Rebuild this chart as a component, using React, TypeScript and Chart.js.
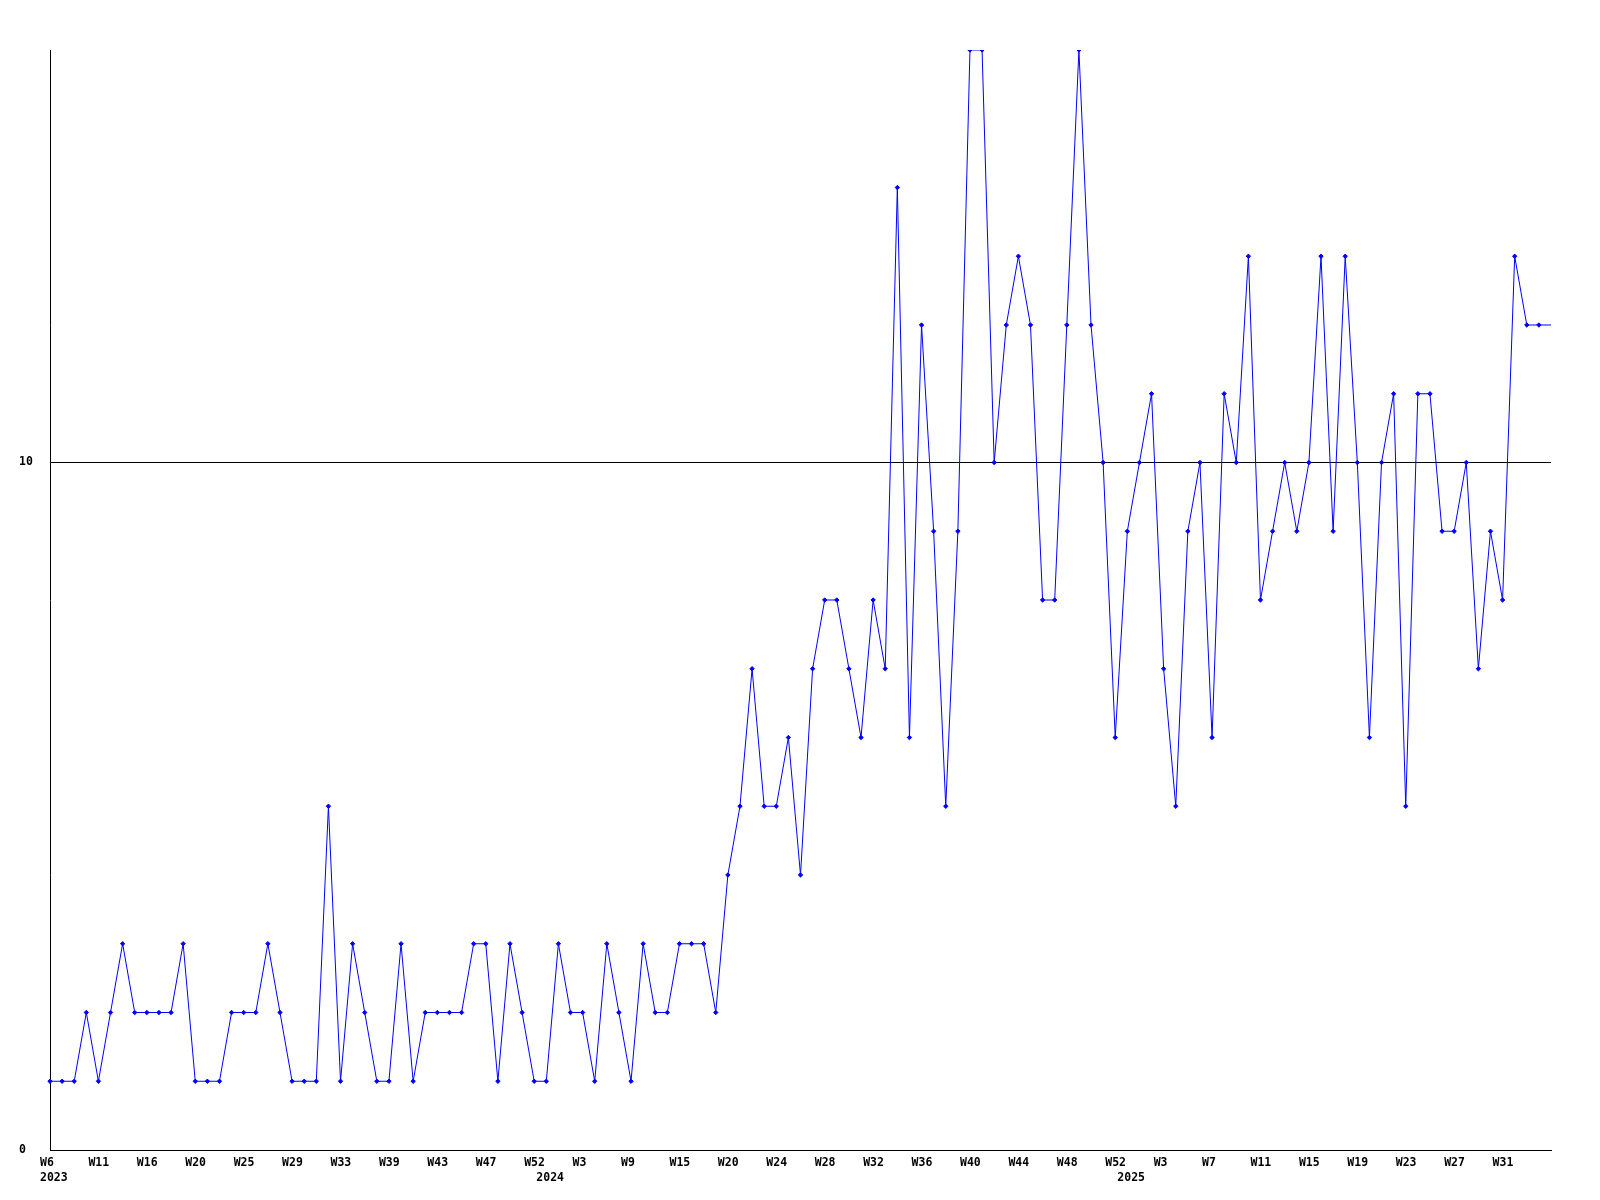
import React, { useEffect, useRef } from 'react';
import { Chart, registerables } from 'chart.js';

Chart.register(...registerables);

// One value per plotted point (weekly counts), left to right.
const values: number[] = [
  1, 1, 1, 2, 1, 2, 3, 2, 2, 2,
  2, 3, 1, 1, 1, 2, 2, 2, 3, 2,
  1, 1, 1, 5, 1, 3, 2, 1, 1, 3,
  1, 2, 2, 2, 2, 3, 3, 1, 3, 2,
  1, 1, 3, 2, 2, 1, 3, 2, 1, 3,
  2, 2, 3, 3, 3, 2, 4, 5, 7, 5,
  5, 6, 4, 7, 8, 8, 7, 6, 8, 7,
  14, 6, 12, 9, 5, 9, 16, 16, 10, 12,
  13, 12, 8, 8, 12, 16, 12, 10, 6, 9,
  10, 11, 7, 5, 9, 10, 6, 11, 10, 13,
  8, 9, 10, 9, 10, 13, 9, 13, 10, 6,
  10, 11, 5, 11, 11, 9, 9, 10, 7, 9,
  8, 13, 12, 12, 12,
];

// Week labels shown on every 4th point.
const weekLabels: string[] = [
  'W6', 'W11', 'W16', 'W20', 'W25', 'W29', 'W33', 'W39', 'W43', 'W47', 'W52',
  'W3', 'W9', 'W15', 'W20', 'W24', 'W28', 'W32', 'W36', 'W40', 'W44', 'W48', 'W52',
  'W3', 'W7', 'W11', 'W15', 'W19', 'W23', 'W27', 'W31',
];
const weekLabelEvery = 4;

// Year labels, on the first point of each year.
const yearLabels: string[] = ['2023', '2024', '2025'];
const yearStartIndex: number[] = [0, 41, 89];

// Y-axis tick values.
const yTicks: number[] = [0, 10];
const yMax = 16;

// Last point is the running (incomplete) week: line only, no marker.
const categories: string[] = values.map((_, i) => String(i));

const FONT = "'DejaVu Sans Mono', 'Liberation Mono', monospace";

export default function App() {
  const ref = useRef<HTMLCanvasElement | null>(null);

  useEffect(() => {
    const canvas = ref.current;
    if (!canvas) return;
    const chart = new Chart(canvas, {
      type: 'line',
      data: {
        labels: categories,
        datasets: [
          {
            data: values,
            borderColor: '#0000ff',
            backgroundColor: '#0000ff',
            borderWidth: 1,
            tension: 0,
            fill: false,
            pointStyle: 'rectRot',
            pointRadius: values.map((_, i) => (i === values.length - 1 ? 0 : 2.2)),
            pointBorderWidth: 1,
            pointBorderColor: '#0000ff',
            pointBackgroundColor: '#0000ff',
          },
        ],
      },
      options: {
        animation: false,
        responsive: false,
        devicePixelRatio: 1,
        layout: { padding: { left: 19, right: 49, top: 50, bottom: 0 } },
        plugins: {
          legend: { display: false },
          tooltip: { enabled: false },
          title: { display: false },
        },
        scales: {
          x: {
            type: 'category',
            offset: false,
            grid: { display: false, drawTicks: false },
            border: { display: true, color: '#000000', width: 1 },
            afterFit: (s: any) => {
              s.height = 50;
            },
            ticks: {
              autoSkip: false,
              maxRotation: 0,
              minRotation: 0,
              align: 'start',
              labelOffset: -10,
              padding: 6,
              color: '#000000',
              font: { family: FONT, size: 11.5, weight: 'bold', lineHeight: 1.25 },
              callback: (_v: any, index: number) => {
                const yi = yearStartIndex.indexOf(index);
                const week = index % weekLabelEvery === 0 ? weekLabels[index / weekLabelEvery] : undefined;
                if (yi >= 0) return [week ?? '', yearLabels[yi]];
                if (week !== undefined) return week;
                return null;
              },
            },
          },
          y: {
            type: 'linear',
            min: 0,
            max: yMax,
            afterBuildTicks: (s: any) => {
              s.ticks = yTicks.map((v) => ({ value: v }));
            },
            afterFit: (s: any) => {
              s.width = 31;
            },
            grid: { display: true, color: '#000000', lineWidth: 1, drawTicks: false },
            border: { display: true, color: '#000000', width: 1 },
            ticks: {
              crossAlign: 'far',
              padding: 0,
              color: '#000000',
              font: { family: FONT, size: 11.5, weight: 'bold' },
            },
          },
        },
      },
    } as any);
    return () => chart.destroy();
  }, []);

  return (
    <canvas
      ref={ref}
      width={1600}
      height={1200}
      style={{ position: 'absolute', left: 0, top: 0, width: 1600, height: 1200, background: '#ffffff' }}
    />
  );
}
